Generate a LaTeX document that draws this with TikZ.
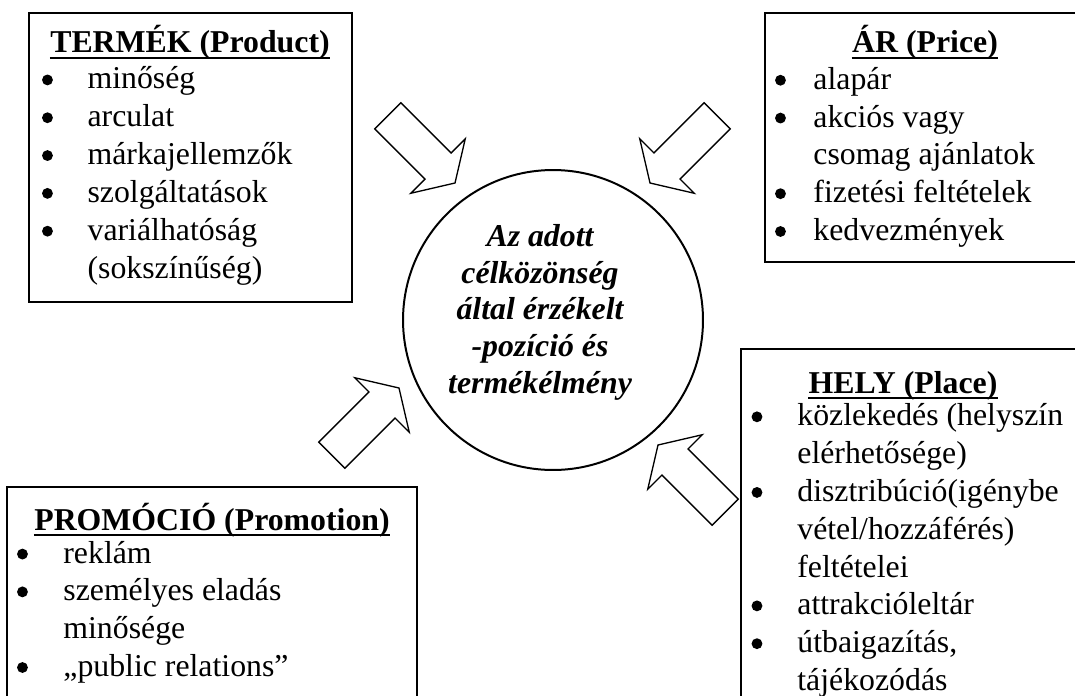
\documentclass[tikz,border=0pt]{standalone}
\usepackage{fontspec}
\setmainfont{Liberation Serif}
\usetikzlibrary{positioning, fit}

% bullet item and continuation line
\newcommand{\dotb}{\tikz[baseline=0pt, x=1pt, y=1pt]\fill (2.05,3.4) circle (2.05);}
\newcommand{\itm}[2][17.2pt]{\makebox[#1][l]{\dotb}#2}
\newcommand{\cnt}[2][17.2pt]{\hspace*{#1}#2}
% hollow block arrow: tip x, tip y, direction
\newcommand{\blockarrow}[3]{\draw[blockarrow, shift={(#1,#2)}, rotate=#3] (0,0) -- (-24,38.5) -- (-24,18.5) -- (-95,18.5) -- (-95,-18.5) -- (-24,-18.5) -- (-24,-38.5) -- cycle;}

\begin{document}
\begin{tikzpicture}[x=0.3774pt, y=-0.3774pt,
		node font=\fontsize{12}{14.27}\selectfont,
		mixbox/.style={draw, rectangle, line width=0.75pt, inner sep=0pt, fill=white},
		boxtitle/.style={anchor=base, inner sep=0pt, font=\bfseries},
		itemlist/.style={anchor=base west, inner sep=0pt, align=left},
		blockarrow/.style={draw, fill=white, line width=0.5pt, line join=miter}]
		\useasboundingbox (0,0) rectangle (1075,695);
		\clip (0,0) rectangle (1075,695);

		% the four boxes
		\node[mixbox, fit={(29,13) (352,302)}] (product) {};
		\node[mixbox, fit={(765,13) (1090,262)}] (price) {};
		\node[mixbox, fit={(7,487) (417,720)}] (promo) {};
		\node[mixbox, fit={(741,349) (1090,720)}] (place) {};

		\node[boxtitle] (ttlProduct) at (190,53) {TERMÉK (Product)};
		\node[boxtitle] (ttlPrice) at (925,53) {ÁR (Price)};
		\node[boxtitle] (ttlPromo) at (212,530) {PROMÓCIÓ (Promotion)};
		\node[boxtitle] (ttlPlace) at (903,393) {HELY (Place)};
		\foreach \t in {ttlProduct, ttlPrice, ttlPromo, ttlPlace}
			\draw[line width=0.7pt] ([yshift=-1.9pt]\t.base west) -- ([yshift=-1.9pt]\t.base east);

		% lists, placed by the baseline of their last line
		\node[itemlist] (lstProduct) at (41.5,278) {\itm{minőség}\\ \itm{arculat}\\ \itm{márkajellemzők}\\ \itm{szolgáltatások}\\ \itm{variálhatóság}\\ \cnt{(sokszínűség)}};
		\node[itemlist] (lstPrice) at (774.5,240.5) {\itm[14.5pt]{alapár}\\ \itm[14.5pt]{akciós vagy}\\ \cnt[14.5pt]{csomag ajánlatok}\\ \itm[14.5pt]{fizetési feltételek}\\ \itm[14.5pt]{kedvezmények}};
		\node[itemlist] (lstPromo) at (16.5,676.5) {\itm[17.5pt]{reklám}\\ \itm[17.5pt]{személyes eladás}\\ \cnt[17.5pt]{minősége}\\ \itm[17.5pt]{„public relations”}};
		\node[itemlist] (lstPlace) at (751,690.5) {\itm[17.3pt]{közlekedés (helyszín}\\ \cnt[17.3pt]{elérhetősége)}\\ \itm[17.3pt]{disztribúció(igénybe}\\ \cnt[17.3pt]{vétel/hozzáférés)}\\ \cnt[17.3pt]{feltételei}\\ \itm[17.3pt]{attrakcióleltár}\\ \itm[17.3pt]{útbaigazítás,}\\ \cnt[17.3pt]{tájékozódás}};

		% centre
		\node[draw, circle, line width=0.75pt, minimum size=113.2pt, inner sep=0pt] (core) at (553,320) {};
		\node[anchor=base, inner sep=0pt, align=center, font=\bfseries\itshape\fontsize{12}{13.8}\selectfont] (aim) at (540,393) {Az adott\\ célközönség\\ által érzékelt\\ -pozíció és\\ termékélmény};

		% block arrows
		\blockarrow{455}{183}{-45}
		\blockarrow{650}{183}{-135}
		\blockarrow{399}{388}{45}
		\blockarrow{658}{445}{135}
	\end{tikzpicture}
\end{document}
